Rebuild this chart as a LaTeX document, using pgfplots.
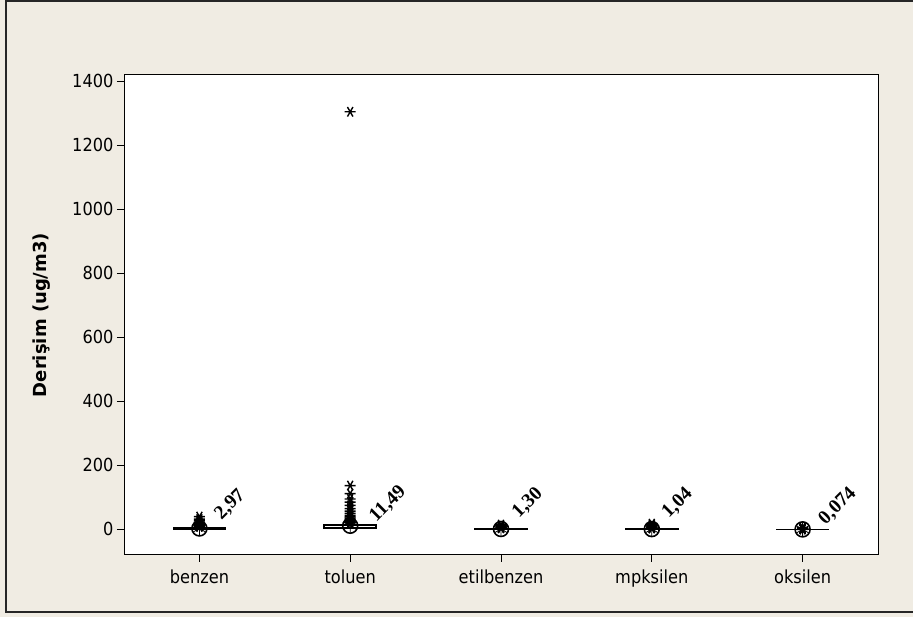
\documentclass[border=0pt]{standalone}
\usepackage{fontspec}
\setmainfont{DejaVu Sans}[FakeStretch=0.9]
\newfontfamily\ylabfont{DejaVu Sans}
\newfontfamily\valfont{Liberation Serif}
\usepackage{pgfplots}
\pgfplotsset{compat=1.18}
\definecolor{panel}{RGB}{240,236,227}

\begin{document}
\begin{tikzpicture}
\useasboundingbox (0pt,0pt) rectangle (913pt,617pt);
\fill[panel] (0pt,0pt) rectangle (913pt,617pt);
\draw[line width=1.5pt, black!85] (914pt,616pt) -- (6pt,616pt) -- (6pt,5pt) -- (914pt,5pt);
\begin{axis}[
  at={(124pt,62pt)}, anchor=south west,
  scale only axis, width=754pt, height=480pt,
  xmin=-0.5, xmax=4.5, ymin=-80, ymax=1420,
  axis background/.style={fill=white},
  axis line style={line width=1pt},
  xtick={0,1,2,3,4},
  xticklabels={benzen,toluen,etilbenzen,mpksilen,oksilen},
  ytick={0,200,...,1400},
  xtick pos=bottom, ytick pos=left,
  tick align=outside, major tick length=7pt,
  tick style={black, line width=0.8pt},
  ticklabel style={font=\fontsize{18}{20}\selectfont},
  xticklabel style={yshift=-4pt},
  /pgf/number format/assume math mode=true,
  /pgf/number format/1000 sep={},
  ylabel={\ylabfont\bfseries Derişim (ug/m3)},
  ylabel style={font=\fontsize{18}{20}\selectfont, at={(axis description cs:-0.109,0.5)}, anchor=center},
  clip=false,
]
% boxes (Q1 to Q3, half width 0.1725), median and whiskers
\addplot[draw=black, line width=1.6pt] coordinates {(-0.1725,0.8) (0.1725,0.8) (0.1725,3.5) (-0.1725,3.5)} --cycle;
\addplot[draw=black, line width=1.6pt] coordinates {(0.8275,3) (1.1725,3) (1.1725,14) (0.8275,14)} --cycle;
\addplot[draw=black, line width=1.6pt] coordinates {(1.8275,0.4) (2.1725,0.4) (2.1725,1.5) (1.8275,1.5)} --cycle;
\addplot[draw=black, line width=1.6pt] coordinates {(2.8275,0.3) (3.1725,0.3) (3.1725,1.2) (2.8275,1.2)} --cycle;
\addplot[draw=black, line width=1.6pt] coordinates {(3.8275,0.03) (4.1725,0.03) (4.1725,0.09) (3.8275,0.09)} --cycle;
\addplot[draw=black, line width=1.6pt] coordinates {(-0.1725,1.6) (0.1725,1.6)};
\addplot[draw=black, line width=1.6pt] coordinates {(0.8275,6.5) (1.1725,6.5)};
\addplot[draw=black, line width=1.6pt] coordinates {(0,3.5) (0,7.5)};
\addplot[draw=black, line width=1.6pt] coordinates {(1,14) (1,19)};

% outliers
\addplot[only marks, mark=asterisk, mark size=5.5pt, line width=1.4pt, every mark/.append style={rotate=90}] coordinates {
 (0,8)(0,9)(0,10)(0,11)(0,12)(0,13)(0,14)(0,16)(0,18)(0,20)(0,23)(0,27)(0,32)(0,40)
 (1,20)(1,22)(1,25)(1,28)(1,31)(1,35)(1,39)(1,44)(1,50)(1,57)(1,65)(1,75)(1,85)(1,95)(1,112)(1,137)(1,1305)
 (2,3.5)(2,4)(2,5)(2,6)(2,7)(2,8)(2,10)(2,12)(2,15)
 (3,3)(3,3.5)(3,4)(3,5)(3,6)(3,7)(3,9)(3,11)(3,14)(3,18)
 (4,0.25)(4,0.3)(4,0.4)(4,0.5)(4,0.7)(4,1)(4,1.5)(4,2)(4,3)(4,4)(4,6)
};

% means
\addplot[only marks, mark=o, mark size=7.5pt, line width=1.6pt] coordinates {(0,2.97)(1,11.49)(2,1.30)(3,1.04)(4,0.074)};
\addplot[only marks, mark=asterisk, mark size=7pt, line width=0.8pt] coordinates {(0,2.97)(1,11.49)(2,1.30)(3,1.04)(4,0.074)};

% mean labels
\tikzset{meanlab/.style={rotate=45, anchor=base west, inner sep=0pt, font=\valfont\bfseries\fontsize{19.5}{20}\selectfont}}
\node[xshift=22pt, yshift=8pt, meanlab] at (axis cs:0,2.97) {2,97};
\node[xshift=26pt, yshift=3pt, meanlab] at (axis cs:1,11.49) {11,49};
\node[xshift=18pt, yshift=10pt, meanlab] at (axis cs:2,1.30) {1,30};
\node[xshift=17pt, yshift=10pt, meanlab] at (axis cs:3,1.04) {1,04};
\node[xshift=23pt, yshift=4pt, meanlab] at (axis cs:4,0.074) {0,074};
\end{axis}
\end{tikzpicture}
\end{document}
